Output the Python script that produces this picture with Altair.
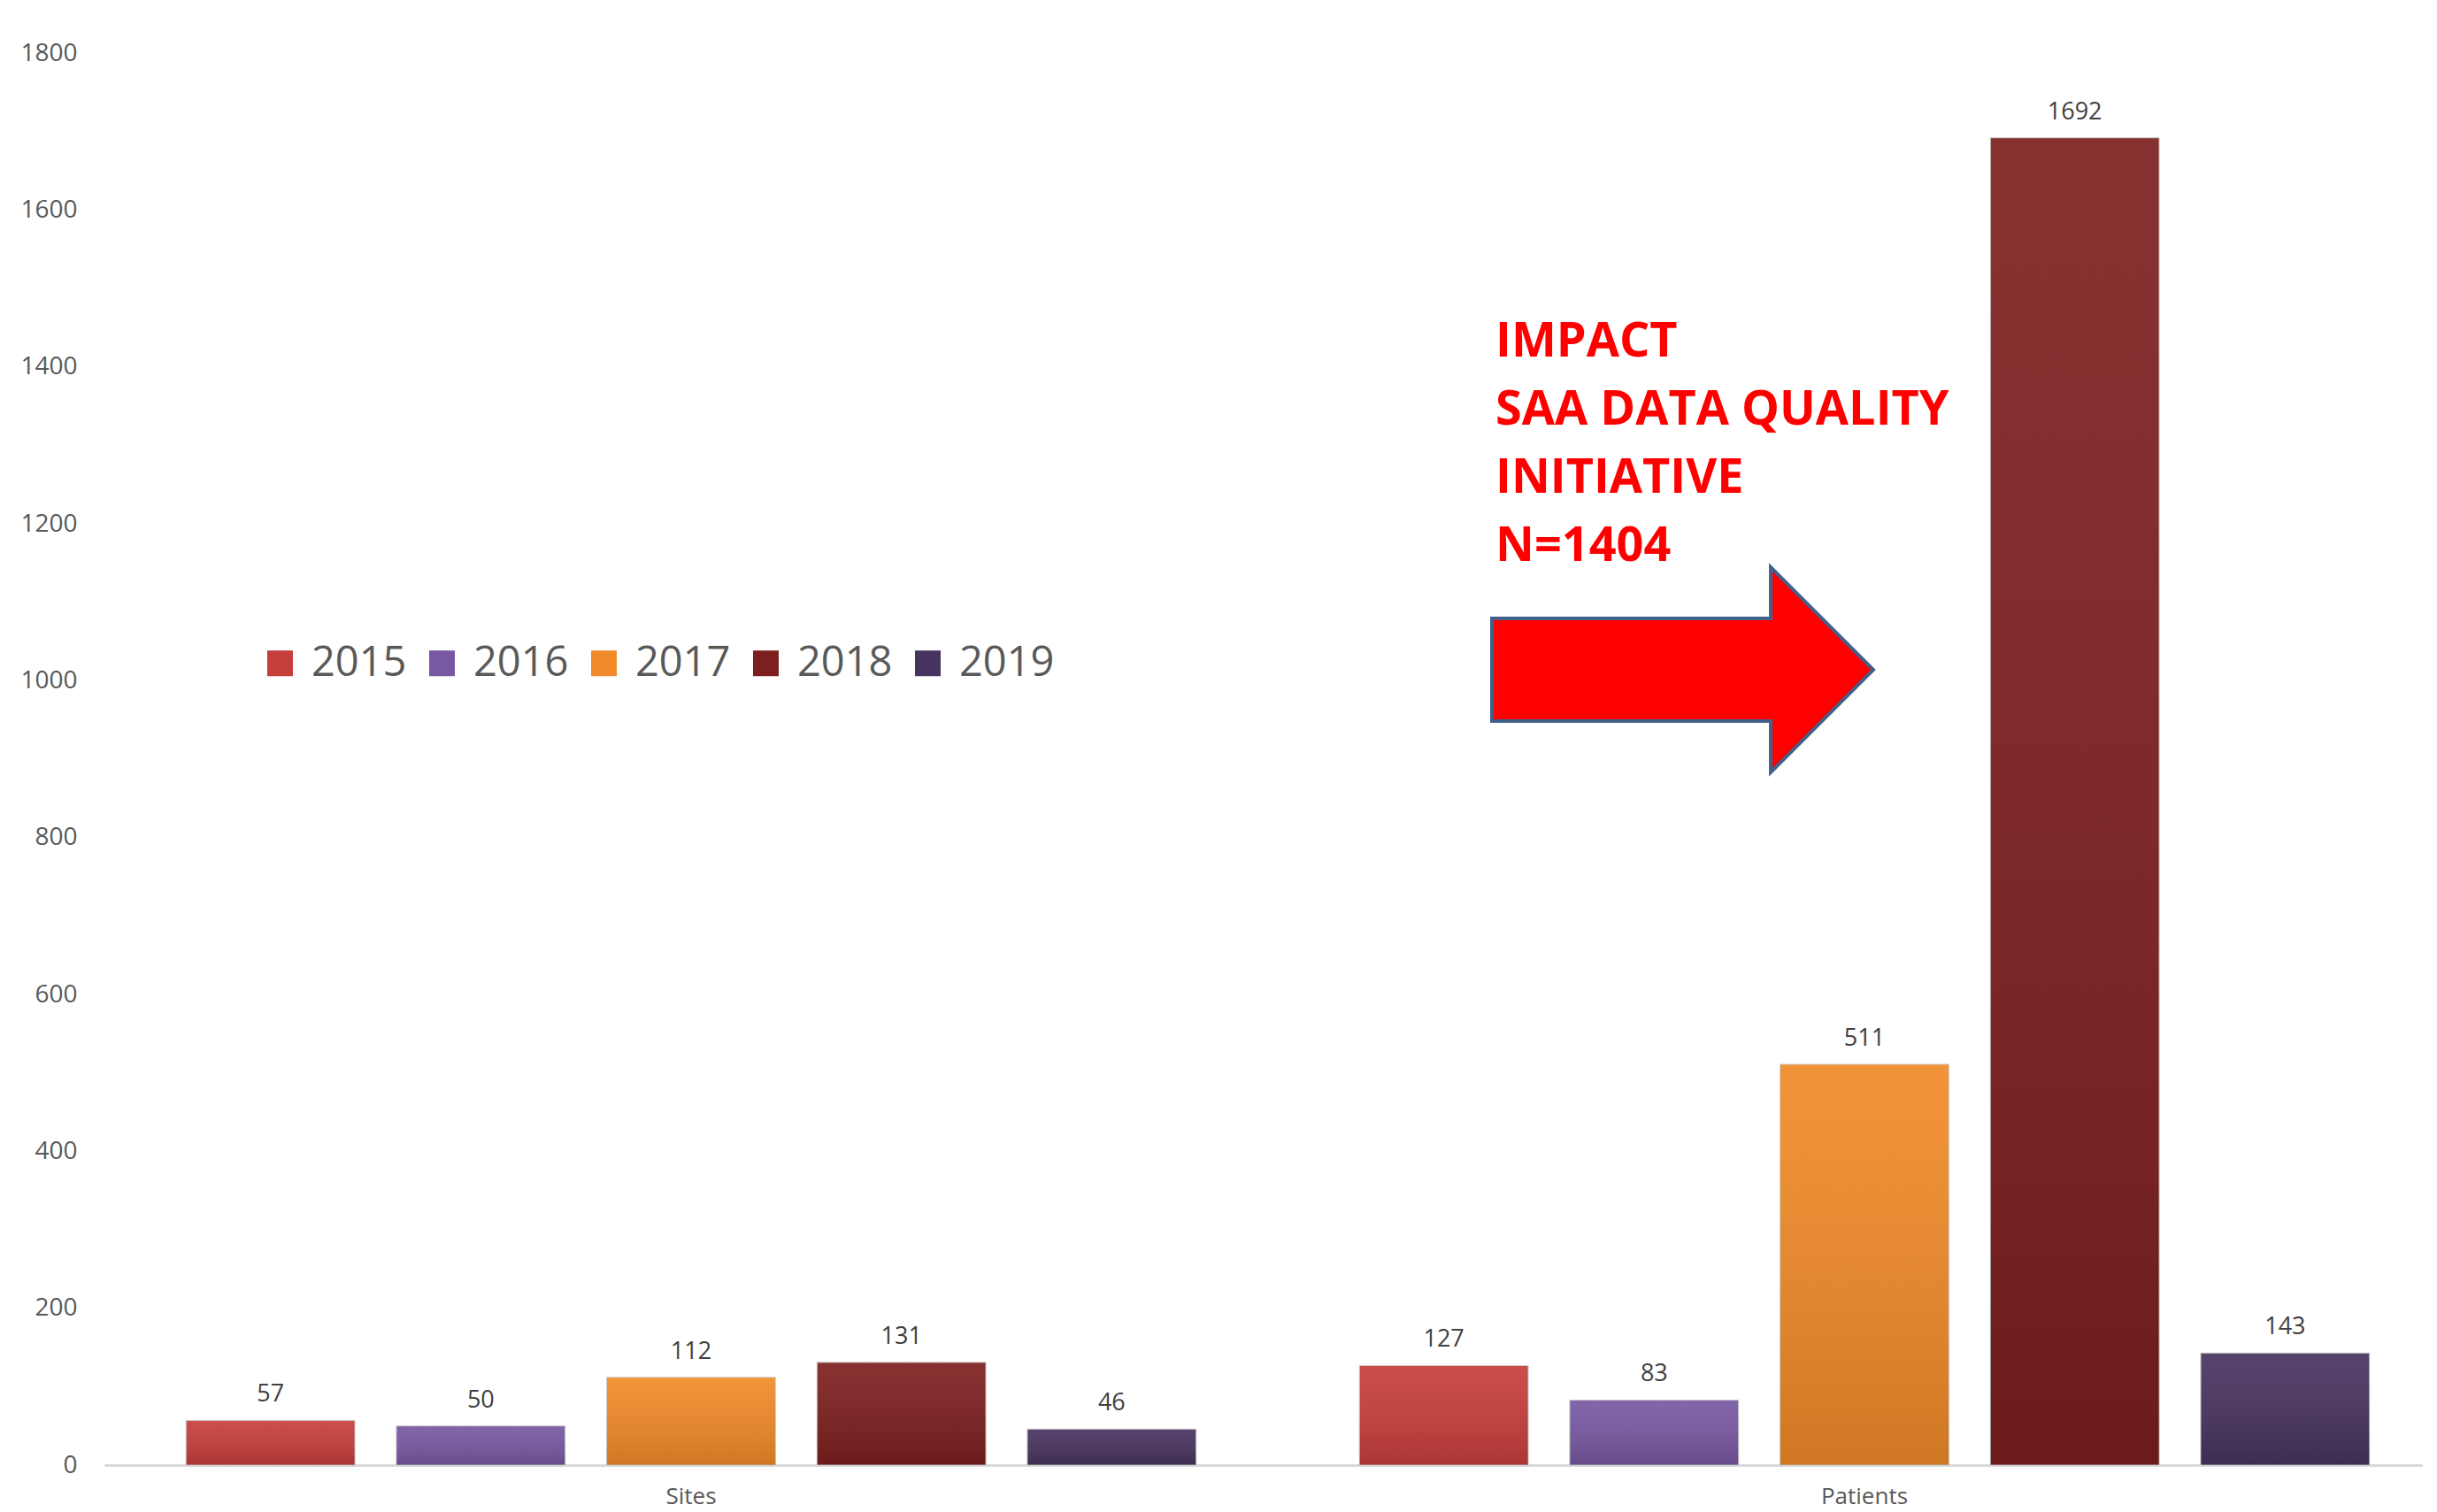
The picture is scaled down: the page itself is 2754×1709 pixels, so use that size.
import altair as alt
import pandas as pd

# ---- data ----
categories = ["Sites", "Patients"]
years = ["2015", "2016", "2017", "2018", "2019"]
sites_values = [57, 50, 112, 131, 46]
patients_values = [127, 83, 511, 1692, 143]
year_colors = ["#C63E3B", "#7858A2", "#F08A28", "#7D1F1F", "#47335F"]
y_ticks = [0, 200, 400, 600, 800, 1000, 1200, 1400, 1600, 1800]
annotation_lines = ["IMPACT", "SAA DATA QUALITY", "INITIATIVE", "N=1404"]

rows = []
for cat, vals in zip(categories, [sites_values, patients_values]):
    for yr, v in zip(years, vals):
        rows.append({"category": cat, "year": yr, "value": v})
df = pd.DataFrame(rows)

FONT = "Open Sans"

x_enc = alt.X(
    "category:N",
    sort=categories,
    scale=alt.Scale(range=[0, 2652], paddingInner=0, paddingOuter=0),
    axis=alt.Axis(
        title=None, labelAngle=0, ticks=False, tickSize=0, grid=False,
        domain=True, domainColor="#D9D9D9", domainWidth=3,
        labelFont=FONT, labelFontSize=26, labelColor="#595959", labelPadding=22,
    ),
)
xoff_enc = alt.XOffset(
    "year:N", sort=years,
    scale=alt.Scale(paddingInner=0.197, paddingOuter=0.388),
)
y_enc = alt.Y(
    "value:Q",
    scale=alt.Scale(domain=[0, 1800], nice=False),
    axis=alt.Axis(
        values=y_ticks, format="d", title=None, grid=False, domain=False, ticks=False,
        tickSize=0, labelPadding=31, labelFont=FONT, labelFontSize=28,
        labelColor="#595959",
    ),
)
color_enc = alt.Color(
    "year:N", sort=years,
    scale=alt.Scale(domain=years, range=year_colors),
    legend=alt.Legend(
        title=None, orient="none", legendX=175, legendY=666, direction="horizontal",
        columns=5, symbolType="square", symbolSize=840, symbolStrokeWidth=0,
        labelFont=FONT, labelFontSize=47, labelColor="#595959", labelOffset=12,
        columnPadding=16, padding=0, symbolOpacity=1,
    ),
)

bars = alt.Chart(df).mark_bar(stroke="#CFCFCF", strokeWidth=1).encode(
    x=x_enc, xOffset=xoff_enc, y=y_enc, color=color_enc
)

shade = alt.Chart(df).mark_bar(
    fill=alt.Gradient(
        gradient="linear", x1=0, y1=0, x2=0, y2=1,
        stops=[
            alt.GradientStop(offset=0, color="rgba(255,255,255,0.08)"),
            alt.GradientStop(offset=1, color="rgba(0,0,0,0.14)"),
        ],
    ),
    strokeWidth=0,
).encode(x=x_enc, xOffset=xoff_enc, y=y_enc)

labels = alt.Chart(df).mark_text(
    baseline="middle", dy=-29, fontSize=27, font=FONT, color="#404040"
).encode(x=x_enc, xOffset=xoff_enc, y=y_enc, text="value:Q")

annot = alt.Chart(pd.DataFrame({"k": [0]})).mark_text(
    text=annotation_lines, align="left", baseline="alphabetic",
    font=FONT, fontWeight="bold", fontSize=54, lineHeight=77, color="#FF0000",
).encode(x=alt.value(1572), y=alt.value(343))

arrow_path = ("M -1 -0.269 L 0.462 -0.269 L 0.462 -0.538 L 1 0 "
              "L 0.462 0.538 L 0.462 0.269 L -1 0.269 Z")
arrow = alt.Chart(pd.DataFrame({"k": [0]})).mark_point(
    shape=arrow_path, size=431 * 431, filled=True, fill="#FF0000",
    stroke="#41618A", strokeWidth=4, opacity=1, fillOpacity=1, strokeOpacity=1,
).encode(x=alt.value(1783.5), y=alt.value(697))

chart = alt.layer(bars, shade, labels, annot, arrow).properties(
    width=2620, height=1596,
    padding={"left": 110, "top": 52, "right": 0, "bottom": 50},
    autosize=alt.AutoSizeParams(type="none"),
).configure_view(stroke=None)

chart.save("out.html", embed_options={"renderer": "svg", "actions": False})
